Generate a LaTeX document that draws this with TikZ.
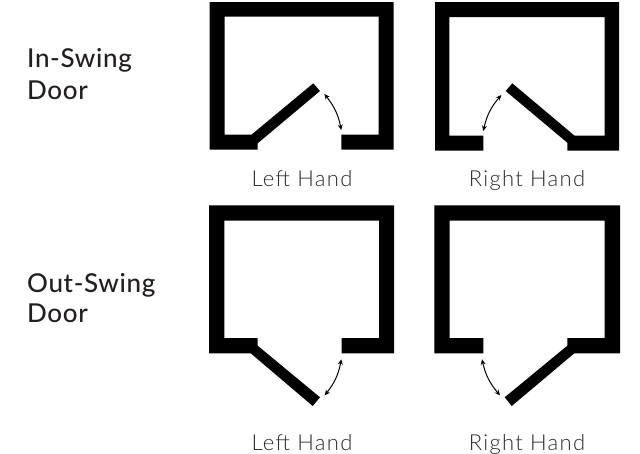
\documentclass[tikz,border=0pt]{standalone}
\usepackage{fontspec}
\setmainfont{Lato}
\newfontfamily\headfont[LetterSpace=2.5]{Lato Medium}
\newfontfamily\lightfont[LetterSpace=6]{Lato Light}
\usetikzlibrary{arrows.meta}
\definecolor{ink}{HTML}{231F20}
\definecolor{lightink}{HTML}{2A2A2A}
\tikzset{
  wall/.style={fill=black,draw=none},
  swing/.style={draw=black,line width=1pt,{Stealth[length=5.5pt,width=5pt]}-{Stealth[length=5.5pt,width=5pt]}},
  heading/.style={anchor=base west,inner sep=0pt,font=\headfont\fontsize{26}{26}\selectfont,text=ink},
  handlabel/.style={anchor=base,inner sep=0pt,font=\lightfont\fontsize{22}{22}\selectfont,text=lightink}
}
\begin{document}
\begin{tikzpicture}[x=1pt,y=-1pt]
\useasboundingbox (0,0) rectangle (640,453);
% In-swing left hand
\fill[wall] (257.7,149.5) -- (209.5,149.5) -- (209.5,2) -- (393.7,2) -- (393.7,149.5) -- (341.3,149.5) -- (341.3,134.5) -- (378.5,134.5) -- (378.5,16.5) -- (224.5,16.5) -- (224.5,134.5) -- (251.7,134.5) -- (313.3,83.3) -- (320,91) -- (257.7,143.3) -- cycle;
% In-swing right hand
\fill[wall] (483.3,150.7) -- (435,150.7) -- (435,2) -- (619,2) -- (619,150.7) -- (567.3,150.7) -- (567.3,142.7) -- (505.7,91) -- (512.3,83.3) -- (574.3,135.5) -- (604.7,135.5) -- (604.7,17) -- (449.3,17) -- (449.3,135.5) -- (483.3,135.5) -- cycle;
% Out-swing left hand
\fill[wall] (250.7,353.3) -- (209,353.3) -- (209,205.3) -- (394,205.3) -- (394,353.3) -- (341.7,353.3) -- (341.7,338) -- (379,338) -- (379,220.7) -- (224.3,220.7) -- (224.3,338) -- (257.7,338) -- (257.7,345.7) -- (320,397.3) -- (312.7,406) -- cycle;
% Out-swing right hand
\fill[wall] (483.3,353.3) -- (434.3,353.3) -- (434.3,205.3) -- (620,205.3) -- (620,353.3) -- (574.3,353.3) -- (511.7,406) -- (504.7,397.3) -- (567.3,345.7) -- (567.3,338) -- (604.7,338) -- (604.7,220.7) -- (449.7,220.7) -- (449.7,338) -- (483.3,338) -- cycle;
% Swing arrows
\coordinate (a1) at (324.3,94);   \coordinate (a2) at (341.3,130);
\coordinate (b1) at (501.3,95);   \coordinate (b2) at (483.3,131);
\coordinate (c1) at (341.3,359.3);\coordinate (c2) at (324.7,395.3);
\coordinate (d1) at (482,359.3);  \coordinate (d2) at (500,395.3);
\draw[swing] (a1) to[bend left=14] (a2);
\draw[swing] (b1) to[bend right=14] (b2);
\draw[swing] (c1) to[bend left=14] (c2);
\draw[swing] (d1) to[bend right=14] (d2);
% Labels
\node[heading] (h1) at (27,67.3) {In-Swing};
\node[heading] (h1b) at (27,99) {Door};
\node[heading] (h2) at (27,292.5) {Out-Swing};
\node[heading] (h2b) at (27,322.3) {Door};
\node[handlabel] (l1) at (302,186.7) {Left Hand};
\node[handlabel] (l2) at (527,186.7) {Right Hand};
\node[handlabel] (l3) at (302,450) {Left Hand};
\node[handlabel] (l4) at (527,450) {Right Hand};
\end{tikzpicture}
\end{document}
